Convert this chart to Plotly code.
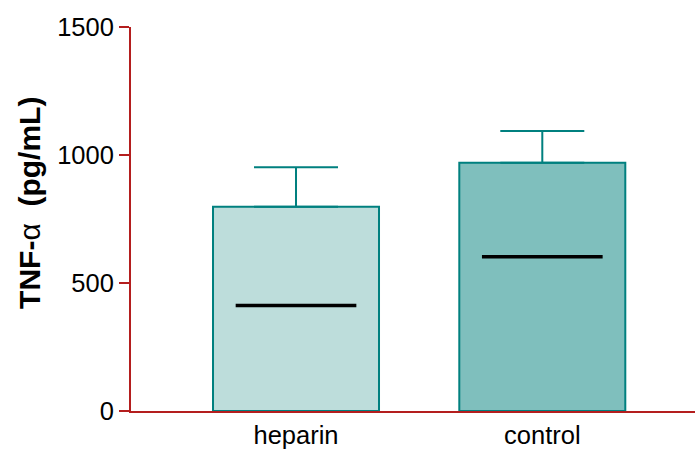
import plotly.graph_objects as go

# TNF-alpha levels per group
groups = ["heparin", "control"]
means = [798, 970]
sd_upper = [154, 124]
medians = [412, 603]
fills = ["#bddddb", "#7fbfbd"]
edge = "#00807f"
axis_red = "#b41e1e"

x_pos = list(range(len(groups)))
half_line = 0.245

fig = go.Figure()
fig.add_trace(go.Bar(
    x=x_pos, y=means, width=0.674,
    marker=dict(color=fills, line=dict(color=edge, width=2)),
    error_y=dict(type="data", array=sd_upper, arrayminus=[0] * len(groups),
                 symmetric=False, color=edge, thickness=2, width=42),
    showlegend=False, hoverinfo="skip",
))
for xi, m in zip(x_pos, medians):
    fig.add_trace(go.Scatter(
        x=[xi - half_line, xi + half_line], y=[m, m], mode="lines",
        line=dict(color="black", width=3.5), showlegend=False, hoverinfo="skip",
    ))

fig.update_layout(
    width=695, height=450,
    margin=dict(l=131, r=0, t=27, b=39),
    plot_bgcolor="white", paper_bgcolor="white",
    font=dict(family="Arial, Liberation Sans, sans-serif", color="black", size=26),
)
fig.update_xaxes(
    range=[-0.67, 1.62], tickvals=x_pos, ticktext=groups,
    showline=True, linecolor=axis_red, linewidth=2, ticks="",
    showgrid=False, zeroline=False, tickfont=dict(size=25.5),
)
fig.update_yaxes(
    range=[0, 1500], tickvals=[0, 500, 1000, 1500],
    showline=True, linecolor=axis_red, linewidth=2,
    ticks="outside", ticklen=10, tickwidth=2, tickcolor=axis_red,
    showgrid=False, zeroline=False, tickfont=dict(size=25.5),
)
# y-axis title, set slightly above the centre of the plot area
fig.add_annotation(
    text="<b>TNF-<span style='font-weight:normal'>α</span>  (pg/mL)</b>",
    xref="paper", yref="paper", x=-0.179, y=0.542,
    xanchor="center", yanchor="middle", textangle=-90,
    showarrow=False, font=dict(size=30),
)
fig.write_html("out.html")
